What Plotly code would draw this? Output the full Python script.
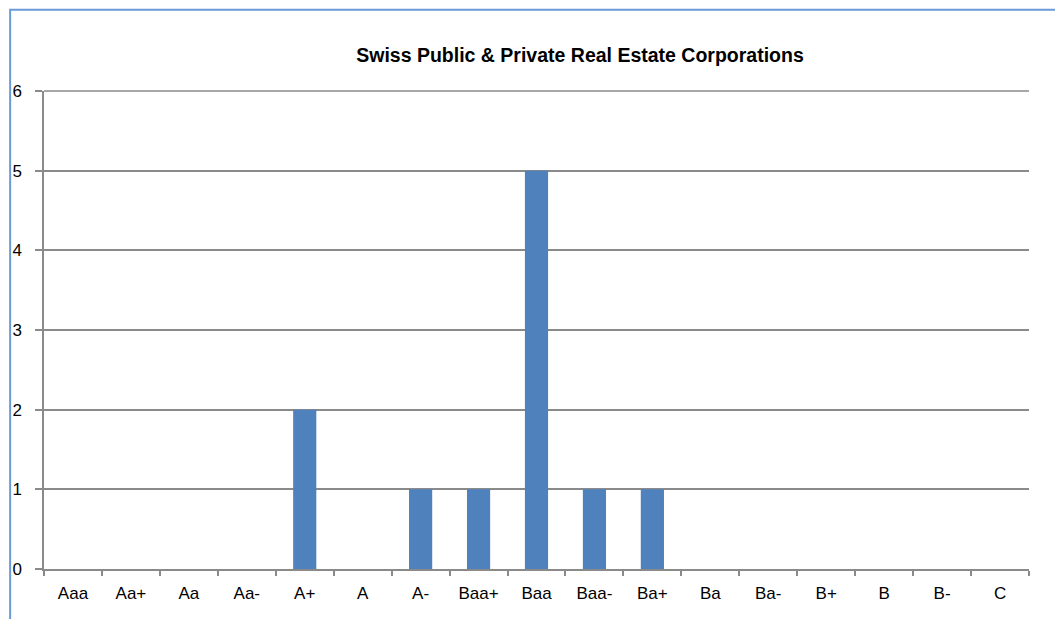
import plotly.graph_objects as go

categories = ["Aaa", "Aa+", "Aa", "Aa-", "A+", "A", "A-", "Baa+", "Baa", "Baa-",
              "Ba+", "Ba", "Ba-", "B+", "B", "B-", "C"]
counts = [0, 0, 0, 0, 2, 0, 1, 1, 5, 1, 1, 0, 0, 0, 0, 0, 0]
y_ticks = [0, 1, 2, 3, 4, 5, 6]
y_max = 6

W, H = 1055, 619
L, R, T, B = 40, 26, 90.5, 49.5
pw, ph = W - L - R, H - T - B

def px_x(x):
    return (x - L) / pw

def px_y(y):
    return (H - B - y) / ph

fig = go.Figure(go.Bar(
    x=categories, y=counts,
    marker=dict(color="#4F81BD", line=dict(width=0)),
    width=0.4,
))

grid = "#8a8a8a"
fig.update_layout(
    width=W, height=H,
    margin=dict(l=L, r=R, t=T, b=B, pad=0),
    paper_bgcolor="white", plot_bgcolor="white",
    font=dict(family="Arial, Liberation Sans, sans-serif", size=17, color="black"),
    title=dict(text="<b>Swiss Public & Private Real Estate Corporations</b>",
               x=580 / W, xanchor="center", xref="container",
               y=1 - 55 / H, yanchor="middle", yref="container",
               font=dict(size=19.5, color="black")),
    showlegend=False,
    bargap=0.6,
    xaxis=dict(type="category", showgrid=False, showline=True, linecolor=grid, linewidth=1.5,
               ticks="outside", tickson="boundaries", ticklen=5, tickcolor=grid, tickwidth=1.5,
               ticklabelstandoff=8, tickfont=dict(size=17),
               fixedrange=True),
    yaxis=dict(range=[0, y_max], tickvals=y_ticks, showgrid=True, gridcolor=grid, gridwidth=1.5,
               showline=True, linecolor=grid, linewidth=1.5, zeroline=False,
               ticks="outside", ticklen=7, tickcolor=grid, tickwidth=1.5, ticklabelstandoff=10,
               tickfont=dict(size=17),
               fixedrange=True),
    shapes=[
        dict(type="line", xref="paper", yref="paper", x0=0, x1=1, y0=1, y1=1,
             line=dict(color=grid, width=1.5), layer="below"),
        dict(type="rect", xref="paper", yref="paper",
             x0=px_x(6), x1=px_x(1200), y0=px_y(9), y1=px_y(800),
             line=dict(color="#6B9BD7", width=2), fillcolor="rgba(0,0,0,0)", layer="above"),
    ],
)

fig.write_html("out.html")
